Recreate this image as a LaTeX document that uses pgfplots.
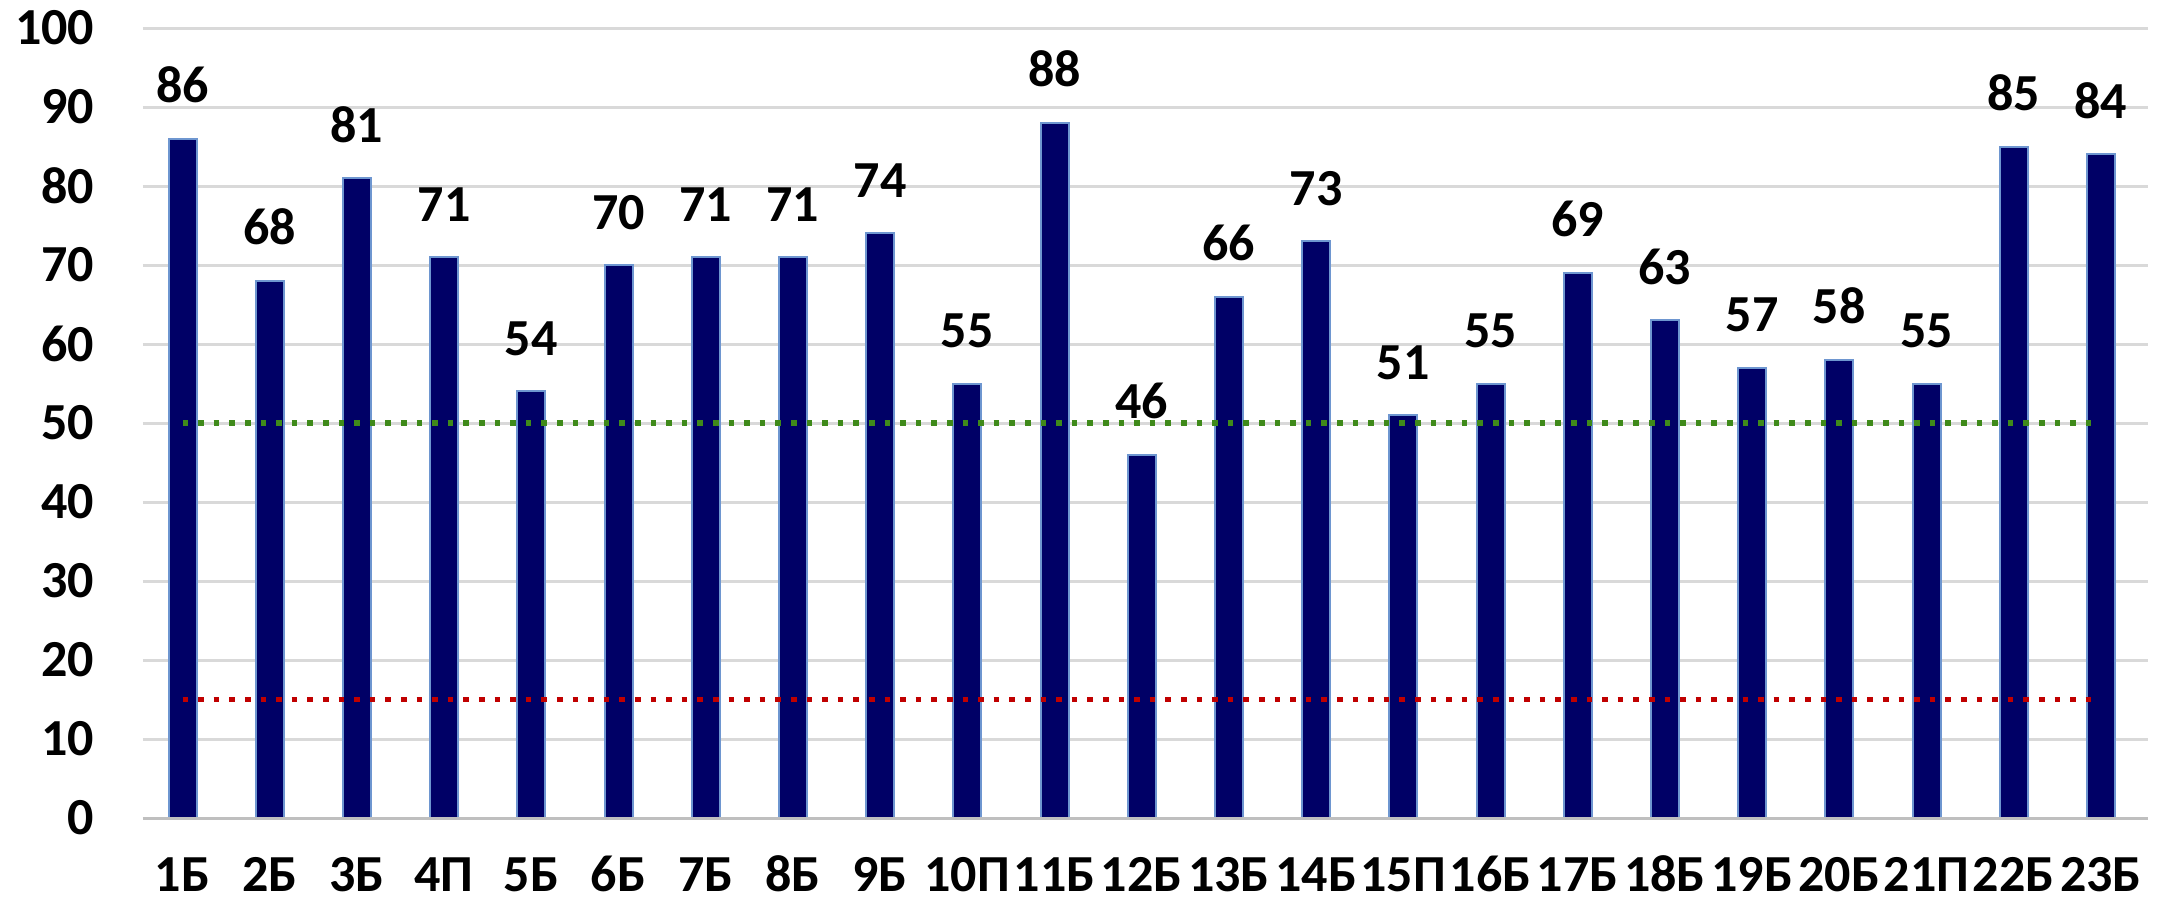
\documentclass[border=0pt]{standalone}
\usepackage{pgfplots}
\pgfplotsset{compat=1.18}
\usepackage{fontspec}
\setmainfont{Carlito}

\definecolor{barfill}{HTML}{000066}
\definecolor{baredge}{HTML}{6E96D0}
\definecolor{gridgray}{HTML}{D9D9D9}
\definecolor{axisgray}{HTML}{BFBFBF}
\definecolor{limgreen}{HTML}{3F8A1A}
\definecolor{limred}{HTML}{C00000}

\begin{document}
\begin{tikzpicture}
\begin{axis}[
  scale only axis,
  width=501.25pt, height=197.5pt,
  xmin=-0.453, xmax=22.54,
  ymin=0, ymax=100,
  ytick={0,10,...,100},
  xtick={0,...,22},
  xticklabels={1Б,2Б,3Б,4П,5Б,6Б,7Б,8Б,9Б,10П,11Б,12Б,13Б,14Б,15П,16Б,17Б,18Б,19Б,20Б,21П,22Б,23Б},
  font=\fontsize{13}{15}\selectfont\bfseries,
  /pgf/number format/assume math mode=true,
  major tick length=0pt,
  axis line style={draw=none},
  ymajorgrids,
  major grid style={gridgray, line width=0.75pt},
  xticklabel style={anchor=base, inner sep=0pt, yshift=-18.3pt},
  yticklabel style={anchor=east, inner sep=0pt, xshift=-12pt},
  clip=false,
]
% bars
\addplot[ybar, bar width=7pt, fill=barfill, draw=baredge, line width=0.5pt,
  nodes near coords,
  nodes near coords style={anchor=base, inner sep=0pt, yshift=9pt, black,
    font=\fontsize{13}{15}\selectfont\bfseries},
] coordinates {
  (0,86) (1,68) (2,81) (3,71) (4,54) (5,70) (6,71) (7,71) (8,74) (9,55)
  (10,88) (11,46) (12,66) (13,73) (14,51) (15,55) (16,69) (17,63) (18,57)
  (19,58) (20,55) (21,85) (22,84)
};
% baseline
\addplot[axisgray, line width=0.75pt] coordinates {(-0.453,0) (22.54,0)};
% threshold lines
\addplot[limgreen, line width=1.4pt, line cap=butt, dash pattern=on 1.4pt off 2.5pt]
  coordinates {(0,50) (22,50)};
\addplot[limred, line width=1.4pt, line cap=butt, dash pattern=on 1.4pt off 2.5pt]
  coordinates {(0,15) (22,15)};
\end{axis}
\pgfresetboundingbox
\path (-35.75pt,-20.5pt) rectangle (503.75pt,204.5pt);
\end{tikzpicture}
\end{document}
